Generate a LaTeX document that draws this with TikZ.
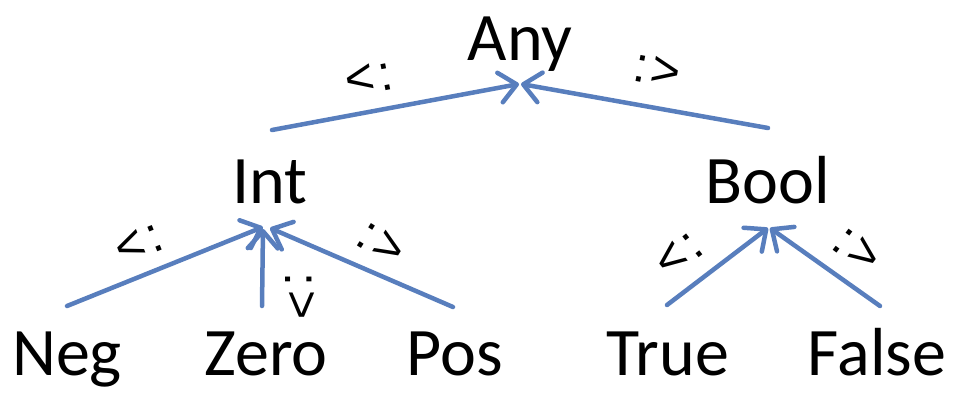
\documentclass[tikz,border=0pt]{standalone}
\usepackage{fontspec}
\setmainfont{Carlito}
\newfontfamily\relfont{Liberation Sans}
\usetikzlibrary{arrows.meta,calc}
\definecolor{edgeblue}{RGB}{88,126,189}
\tikzset{
  term/.style={inner sep=0pt, outer sep=0pt, anchor=base, text height=42pt, text depth=0pt, font=\fontsize{68}{72}\selectfont},
  rel/.style={inner sep=0pt, font=\relfont\fontsize{50}{54}\selectfont},
  sub/.style={draw=edgeblue, line width=4.5pt, line cap=round, -{Straight Barb[round,length=17pt,width=30pt]}},
}
\begin{document}
\begin{tikzpicture}[x=1pt,y=-1pt]
\useasboundingbox (0,0) rectangle (956,400);
\node[term] (any) at (520,60) {Any};
\node[term] (int) at (270,203) {Int};
\node[term] (bool) at (768,203) {Bool};
\node[term] (neg) at (67,375) {Neg};
\node[term] (zero) at (266,375) {Zero};
\node[term] (pos) at (455,375) {Pos};
\node[term] (true) at (668,375) {True};
\node[term] (false) at (877,375) {False};

\draw[sub] ($(int.north)+(2,-31)$) -- ($(any.south)+(-1,24)$);
\draw[sub] ($(bool.north)+(0,-33)$) -- ($(any.south)+(1,24)$);
\draw[sub] ($(neg.north)+(0,-27)$) -- ($(int.south)+(-7,24)$);
\draw[sub] ($(zero.north)+(-4,-27)$) -- ($(int.south)+(-7,26)$);
\draw[sub] ($(pos.north)+(-2,-26)$) -- ($(int.south)+(0,25)$);
\draw[sub] ($(true.north)+(-1,-28)$) -- ($(bool.south)+(0,25)$);
\draw[sub] ($(false.north)+(3,-27)$) -- ($(bool.south)+(2,25)$);

\node[rel, rotate=11] (l1) at (369,79) {<\kern4pt:};
\node[rel, rotate=-11] (l2) at (657,71) {:\kern4pt>};
\node[rel, rotate=22] (l3) at (139,244) {<\kern4pt:};
\node[rel, rotate=-90] (l4) at (300,296) {:\kern4pt>};
\node[rel, rotate=-32] (l5) at (381,244) {:\kern4pt>};
\node[rel, rotate=38] (l6) at (679,255) {<\kern4pt:};
\node[rel, rotate=-37] (l7) at (857,250) {:\kern4pt>};
\end{tikzpicture}
\end{document}
